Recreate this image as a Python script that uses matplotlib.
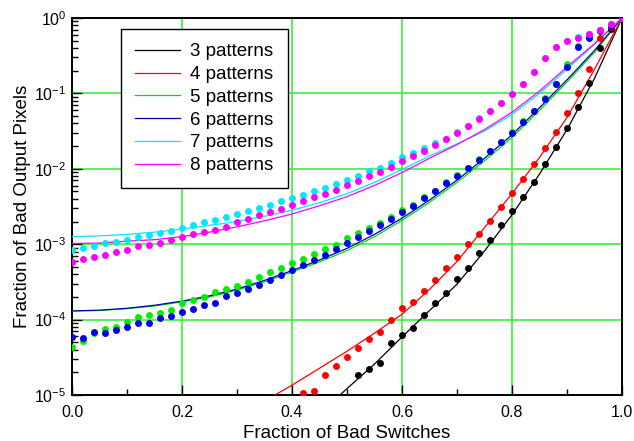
import numpy as np
import matplotlib
matplotlib.use("Agg")
import matplotlib.pyplot as plt

plt.rcParams['font.family'] = ['Liberation Sans', 'DejaVu Sans']
plt.rcParams['mathtext.fontset'] = 'custom'
plt.rcParams['mathtext.rm'] = 'Liberation Sans'

# measured points, x = fraction of bad switches
dot_x = [0.00, 0.02, 0.04, 0.06, 0.08, 0.10, 0.12, 0.14, 0.16, 0.18,
         0.20, 0.22, 0.24, 0.26, 0.28, 0.30, 0.32, 0.34, 0.36, 0.38,
         0.40, 0.42, 0.44, 0.46, 0.48, 0.50, 0.52, 0.54, 0.56, 0.58,
         0.60, 0.62, 0.64, 0.66, 0.68, 0.70, 0.72, 0.74, 0.76, 0.78,
         0.80, 0.82, 0.84, 0.86, 0.88, 0.90, 0.92, 0.94, 0.96, 0.98, 1.00]

# log10 of the fraction of bad output pixels (nan = not shown)
nan = np.nan
dots_3 = [nan] * 25 + [-5.03, -4.73, -4.66, -4.57, -4.31,
                       -4.21, -4.11, -3.94, -3.785, -3.65, -3.455, -3.31, -3.12, -2.94, -2.75,
                       -2.56, -2.37, -2.17, -1.94, -1.71, -1.46, -1.18, -0.86, -0.40, -0.14, 0.0]
dots_4 = [nan] * 21 + [-4.98, -4.95, -4.73, -4.62, -4.50, -4.38, -4.26, -4.17, -4.005,
                       -3.84, -3.77, -3.62, -3.48, -3.32, -3.17, -3.00, -2.86, -2.69, -2.51,
                       -2.325, -2.14, -1.94, -1.73, -1.51, -1.265, -1.00, -0.67, -0.27, -0.12, 0.0]
dots_5 = [-4.36, -4.28, -4.18, -4.12, -4.10, -4.03, -3.96, -3.94, -3.91, -3.87,
          -3.78, -3.74, -3.70, -3.64, -3.60, -3.55, -3.50, -3.44, -3.37, -3.31,
          -3.245, -3.19, -3.13, -3.06, -3.01, -2.92, -2.85, -2.79, -2.72, -2.635,
          -2.55, -2.48, -2.37, -2.29, -2.18, -2.08, -1.985, -1.87, -1.76, -1.64,
          -1.51, -1.37, -1.23, -1.06, -0.87, -0.61, -0.37, -0.235, -0.16, -0.09, 0.0]
dots_6 = [-4.23, -4.25, -4.17, -4.18, -4.14, -4.10, -4.05, -4.04, -3.98, -3.95,
          -3.90, -3.86, -3.81, -3.78, -3.69, -3.65, -3.60, -3.54, -3.47, -3.41,
          -3.34, -3.27, -3.21, -3.14, -3.06, -2.98, -2.90, -2.83, -2.745, -2.66,
          -2.57, -2.49, -2.39, -2.30, -2.19, -2.095, -1.99, -1.88, -1.77, -1.65,
          -1.52, -1.38, -1.24, -1.07, -0.88, -0.645, -0.39, -0.26, -0.17, -0.10, 0.0]
dots_7 = [-3.08, -3.05, -3.03, -2.99, -2.97, -2.94, -2.91, -2.88, -2.85, -2.82,
          -2.78, -2.75, -2.71, -2.675, -2.635, -2.60, -2.565, -2.52, -2.48, -2.43,
          -2.39, -2.35, -2.30, -2.25, -2.20, -2.15, -2.10, -2.03, -1.99, -1.92,
          -1.85, -1.79, -1.73, -1.66, -1.60, -1.51, -1.43, -1.33, -1.23, -1.13,
          -1.01, -0.87, -0.71, -0.53, -0.39, -0.31, -0.25, -0.21, -0.16, -0.08, 0.0]
dots_8 = [-3.23, -3.19, -3.17, -3.14, -3.11, -3.08, -3.03, -3.01, -2.98, -2.94,
          -2.90, -2.87, -2.84, -2.81, -2.77, -2.71, -2.67, -2.61, -2.57, -2.53,
          -2.48, -2.43, -2.38, -2.33, -2.28, -2.22, -2.16, -2.10, -2.04, -1.97,
          -1.89, -1.83, -1.76, -1.69, -1.60, -1.52, -1.43, -1.34, -1.24, -1.13,
          -1.01, -0.875, -0.71, -0.535, -0.39, -0.31, -0.26, -0.21, -0.165, -0.08, 0.0]

# fitted curves (log10), read every 0.05
fit_x = [0.00, 0.05, 0.10, 0.15, 0.20, 0.25, 0.30, 0.35, 0.40, 0.45, 0.50,
         0.55, 0.60, 0.65, 0.70, 0.75, 0.80, 0.85, 0.90, 0.95, 1.00]
fit_3 = [nan] * 9 + [-5.25, -4.915, -4.59, -4.23, -3.88, -3.53, -3.09, -2.61, -2.07, -1.48, -0.80, 0.0]
fit_4 = [nan] * 7 + [-5.08, -4.87, -4.645, -4.42, -4.18, -3.93, -3.60, -3.23, -2.78, -2.33,
                     -1.85, -1.32, -0.68, 0.0]
fit_5 = [-3.885, -3.88, -3.855, -3.82, -3.765, -3.70, -3.61, -3.50, -3.37, -3.235, -3.085,
         -2.90, -2.685, -2.445, -2.18, -1.895, -1.585, -1.225, -0.85, -0.455, 0.0]
fit_6 = [-3.885, -3.875, -3.85, -3.81, -3.755, -3.685, -3.595, -3.48, -3.35, -3.21, -3.055,
         -2.87, -2.655, -2.415, -2.15, -1.86, -1.55, -1.19, -0.82, -0.43, 0.0]
fit_7 = [-2.90, -2.89, -2.87, -2.84, -2.80, -2.75, -2.70, -2.63, -2.55, -2.45, -2.33,
         -2.18, -2.01, -1.83, -1.67, -1.50, -1.28, -1.00, -0.68, -0.35, 0.0]
fit_8 = [-2.99, -2.985, -2.96, -2.94, -2.90, -2.84, -2.77, -2.69, -2.60, -2.49, -2.37,
         -2.22, -2.05, -1.86, -1.68, -1.48, -1.25, -0.97, -0.65, -0.34, 0.0]

labels = ['3 patterns', '4 patterns', '5 patterns', '6 patterns', '7 patterns', '8 patterns']
line_colors = ['#000000', '#ff0000', '#00dd00', '#0000b0', '#00e8ff', '#ff00ff']
dot_colors = ['#000000', '#ff0000', '#00ee00', '#0000ee', '#00e8ff', '#ff00ff']
fits = [fit_3, fit_4, fit_5, fit_6, fit_7, fit_8]
dots = [dots_3, dots_4, dots_5, dots_6, dots_7, dots_8]

fig = plt.figure(figsize=(6.34, 4.41), dpi=100)
ax = fig.add_axes([72 / 634, 1 - 395 / 441, 550 / 634, 377 / 441])

for fit, lab, col in zip(fits, labels, line_colors):
    ax.plot(fit_x, 10 ** np.array(fit), color=col, lw=0.9, label=lab, zorder=3)
for d, col in zip(dots, dot_colors):
    ax.plot(dot_x, 10 ** np.array(d), 'o', color=col, ms=5.0, mec='none', zorder=4)

ax.set_yscale('log')
ax.set_xlim(0, 1)
ax.set_ylim(1e-5, 1)
ax.set_xticks([0.0, 0.2, 0.4, 0.6, 0.8, 1.0])
ax.set_xticklabels(['0.0', '0.2', '0.4', '0.6', '0.8', '1.0'])
ax.set_xticks([0.1, 0.3, 0.5, 0.7, 0.9], minor=True)
ax.grid(True, which='major', color='#3cf03c', lw=1.2)
ax.tick_params(which='both', direction='in', top=False, right=False, labelsize=11.5)
ax.tick_params(which='major', length=7, width=1)
ax.tick_params(which='minor', length=4, width=1)
ax.tick_params(axis='x', pad=7)
ax.tick_params(axis='y', pad=4)
for s in ax.spines.values():
    s.set_linewidth(1.4)

ax.set_xlabel('Fraction of Bad Switches', fontsize=13.5, labelpad=4)
ax.set_ylabel('Fraction of Bad Output Pixels', fontsize=13.5, labelpad=2)

leg = ax.legend(loc='upper left', bbox_to_anchor=(0.089, 0.970), borderaxespad=0,
                fontsize=13.5, fancybox=False, framealpha=1, edgecolor='black',
                handlelength=2.4, handletextpad=0.55, labelspacing=0.3, borderpad=0.75)
leg.get_frame().set_linewidth(1.0)

fig.savefig('out.png', dpi=100)
